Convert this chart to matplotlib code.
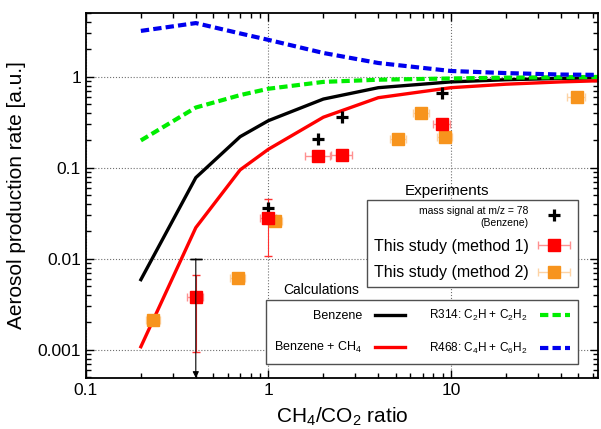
import matplotlib.pyplot as plt
from matplotlib.legend_handler import HandlerErrorbar
from matplotlib.ticker import FuncFormatter, NullFormatter

plt.rcParams['font.family'] = ['Liberation Sans', 'DejaVu Sans']
plt.rcParams['mathtext.default'] = 'regular'

# modelos: tasa de producción vs CH4/CO2
ratio = [0.2, 0.4, 0.7, 1, 2, 4, 10, 20, 40, 70]
benzene = [0.0059, 0.078, 0.22, 0.33, 0.57, 0.76, 0.88, 0.93, 0.96, 0.98]
benzene_ch4 = [0.00108, 0.022, 0.095, 0.16, 0.36, 0.59, 0.76, 0.83, 0.88, 0.91]
r314 = [0.20, 0.46, 0.63, 0.74, 0.88, 0.93, 0.96, 0.98, 0.99, 1.0]
r468 = [3.2, 3.9, 3.0, 2.55, 1.83, 1.42, 1.16, 1.1, 1.06, 1.05]

# experimentos
mass_x = [1.0, 1.88, 2.54, 8.9]
mass_y = [0.036, 0.21, 0.36, 0.67]
limit_x = [0.4]
limit_y = [0.01]

m1_x = [0.4, 1.0, 1.88, 2.54, 8.9]
m1_y = [0.0038, 0.028, 0.135, 0.14, 0.30]
m1_xerr = [0.04, 0.1, 0.3, 0.33, 0.95]
m1_yerr_x = [0.4, 1.0]
m1_yerr_y = [0.0038, 0.028]
m1_yerr_lo = [0.00285, 0.0173]
m1_yerr_hi = [0.0029, 0.017]

m2_x = [0.233, 0.68, 1.08, 5.15, 6.9, 9.3, 49]
m2_y = [0.0021, 0.0062, 0.026, 0.21, 0.40, 0.22, 0.60]
m2_xerr = [0.02, 0.065, 0.1, 0.5, 0.7, 0.9, 5.5]

red = '#ff0000'
orange = '#f7941d'

fig = plt.figure(figsize=(6.01, 4.29), dpi=100)
ax = fig.add_axes([0.143, 0.119, 0.852, 0.851])

ax.grid(True, which='major', ls=':', color='#707070', lw=0.8)
ax.set_axisbelow(True)

l_b, = ax.plot(ratio, benzene, color='black', lw=2.4, label='Benzene')
l_bc, = ax.plot(ratio, benzene_ch4, color=red, lw=2.4, label='Benzene + CH$_4$')
l_g, = ax.plot(ratio, r314, color='#00ee00', lw=3, dashes=(2, 1),
               label='R314: C$_2$H + C$_2$H$_2$')
l_bl, = ax.plot(ratio, r468, color='#0000ee', lw=3, dashes=(2, 1),
                label='R468: C$_4$H + C$_6$H$_2$')

# límite superior (flecha)
ax.errorbar(limit_x, limit_y, yerr=[[0], [0]], fmt='none', ecolor='black',
            capsize=4.5, elinewidth=0.8)
for xv, yv in zip(limit_x, limit_y):
    ax.annotate('', xy=(xv, 0), xycoords=('data', 'axes fraction'),
                xytext=(xv, yv), textcoords='data',
                arrowprops=dict(arrowstyle='-|>', color='black', lw=0.8,
                                mutation_scale=9, shrinkA=0, shrinkB=0))

m2 = ax.errorbar(m2_x, m2_y, xerr=m2_xerr, fmt='s', color=orange, mec=orange,
                 ms=8, ecolor='#fdd3a5', elinewidth=1, capsize=3,
                 label='This study (method 2)')
ax.errorbar(m1_yerr_x, m1_yerr_y, yerr=[m1_yerr_lo, m1_yerr_hi], fmt='none',
            ecolor='#ff3030', elinewidth=0.8, capsize=3)
m1 = ax.errorbar(m1_x, m1_y, xerr=m1_xerr, fmt='s', color=red, mec=red,
                 ms=8.5, ecolor='#ff9090', elinewidth=1, capsize=3,
                 label='This study (method 1)')
ms, = ax.plot(mass_x, mass_y, ls='none', marker='+', color='black', ms=8,
              mew=2.3, label='mass signal at m/z = 78\n(Benzene)')

ax.set_xscale('log')
ax.set_yscale('log')
ax.set_xlim(0.1, 64)
ax.set_ylim(0.00049, 5.05)

fmt = FuncFormatter(lambda v, p: '{:g}'.format(v))
ax.xaxis.set_major_formatter(fmt)
ax.yaxis.set_major_formatter(fmt)
ax.xaxis.set_minor_formatter(NullFormatter())
ax.yaxis.set_minor_formatter(NullFormatter())
ax.tick_params(which='both', direction='in', top=True, right=True,
               labelsize=12.5, width=1)
ax.tick_params(which='major', length=6)
ax.tick_params(which='minor', length=3.5)
for s in ax.spines.values():
    s.set_linewidth(1.3)

ax.set_xlabel('CH$_4$/CO$_2$ ratio', fontsize=15, labelpad=6)
ax.set_ylabel('Aerosol production rate [a.u.]', fontsize=15, labelpad=8)

# leyenda de experimentos
hm = {m1: HandlerErrorbar(xerr_size=1.0), m2: HandlerErrorbar(xerr_size=1.0)}
leg1 = ax.legend(handles=[ms, m1, m2], loc='upper right', handler_map=hm,
                 bbox_to_anchor=(0.961, 0.488), borderaxespad=0,
                 markerfirst=False, fontsize=11.5, handlelength=2.2,
                 handletextpad=0.5, labelspacing=0.7, borderpad=0.4,
                 fancybox=False, framealpha=1, edgecolor='#505050')
leg1.get_frame().set_linewidth(1)
leg1.get_texts()[0].set_fontsize(7.5)
leg1.get_texts()[0].set_multialignment('right')
ax.add_artist(leg1)
ax.text(0.705, 0.512, 'Experiments', transform=ax.transAxes, fontsize=11,
        ha='center', va='center')

# leyenda de cálculos
leg2 = ax.legend(handles=[l_b, l_bc, l_g, l_bl], loc='upper right', ncol=2,
                 bbox_to_anchor=(0.961, 0.214), borderaxespad=0,
                 markerfirst=False, fontsize=9, handlelength=2.4,
                 handletextpad=1.0, columnspacing=1.9, labelspacing=1.45,
                 borderpad=0.65, fancybox=False, framealpha=1,
                 edgecolor='#505050')
leg2.get_frame().set_linewidth(1)
for t in leg2.get_texts()[2:]:
    t.set_fontsize(8.5)
ax.text(0.385, 0.241, 'Calculations', transform=ax.transAxes, fontsize=10,
        ha='left', va='center')

plt.savefig('out.png')
plt.close()
